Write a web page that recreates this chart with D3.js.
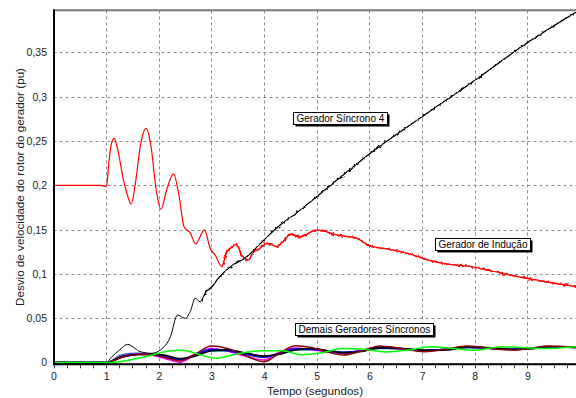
<!DOCTYPE html>
<html>
<head>
<meta charset="utf-8">
<script src="https://cdn.jsdelivr.net/npm/d3@7"></script>
<style>
  html, body { margin: 0; padding: 0; background: #fff; }
  svg { display: block; font-family: "Liberation Sans", Arial, sans-serif; }
</style>
</head>
<body>
<svg id="chart" width="576" height="398"></svg>
<script>
// ---- Rotor speed deviation (pu) versus time (s) ----

// Induction generator
const inductionT = [0, 0.9, 0.98, 1.01, 1.05, 1.1, 1.152, 1.22, 1.33, 1.4,
  1.475, 1.55, 1.65, 1.76, 1.85, 1.95, 2.04, 2.15, 2.279, 2.38,
  2.481, 2.6, 2.697, 2.868, 2.975, 3.07, 3.197, 3.29, 3.38, 3.47,
  3.577, 3.70, 3.797, 3.9, 4.05, 4.24, 4.367, 4.494, 4.684, 5.0,
  5.38, 5.76, 6.01, 6.39, 6.83, 7.02, 7.47, 7.97, 8.23, 8.99, 9.92];
const inductionV = [0.2, 0.2, 0.199, 0.2, 0.225, 0.247, 0.253, 0.24, 0.206, 0.19,
  0.1787, 0.2, 0.245, 0.2644, 0.245, 0.195, 0.173, 0.195, 0.2129, 0.19,
  0.153, 0.146, 0.1339, 0.1497, 0.129, 0.1214, 0.1083, 0.125, 0.13, 0.1335,
  0.1214, 0.1158, 0.125, 0.128, 0.1346, 0.131, 0.1365, 0.145, 0.142, 0.1497,
  0.144, 0.1403, 0.1316, 0.1278, 0.1214, 0.1175, 0.1113, 0.108, 0.1045, 0.0951, 0.0857];

// Synchronous generator 4
const sync4T = [0, 1.0, 1.1, 1.25, 1.41, 1.55, 1.646, 1.87, 2.03, 2.22,
  2.355, 2.5, 2.6, 2.69, 2.785, 2.9, 3.0, 3.13, 3.355, 3.67,
  3.99, 4.304, 4.48, 5.0, 6.0, 7.0, 8.0, 9.0, 9.94];
const sync4V = [0, 0, 0.006, 0.014, 0.0206, 0.016, 0.0123, 0.0105, 0.0142, 0.029,
  0.0537, 0.05, 0.058, 0.0726, 0.0687, 0.08, 0.085, 0.0951, 0.108, 0.1195,
  0.138, 0.1553, 0.1628, 0.1873, 0.2355, 0.2775, 0.3185, 0.361, 0.396];

// Remaining synchronous generators (shared time base)
const othersT = [0, 1, 1.3, 1.6, 1.85, 2.1, 2.4, 2.7, 3.0, 3.3,
  3.6, 4.0, 4.3, 4.6, 4.9, 5.2, 5.5, 5.85, 6.2, 6.6,
  7.05, 7.45, 7.85, 8.3, 8.75, 9.05, 9.4, 9.92];
const genYellowV = [0, 0, 0.0068, 0.0092, 0.0088, 0.0072, 0.0035, 0.0088, 0.0148, 0.0138,
  0.0098, 0.0055, 0.0108, 0.0152, 0.0148, 0.0128, 0.0108, 0.0133, 0.0168, 0.0152,
  0.0132, 0.0148, 0.0172, 0.0158, 0.0148, 0.0158, 0.0178, 0.0168];
const genTealV = [0, 0, 0.009, 0.0105, 0.009, 0.0075, 0.004, 0.0085, 0.013, 0.013,
  0.0105, 0.0065, 0.0105, 0.014, 0.0145, 0.0135, 0.012, 0.013, 0.016, 0.0155,
  0.014, 0.0148, 0.017, 0.0162, 0.0152, 0.016, 0.0176, 0.0171];
const genNavyV = [0, 0, 0.006, 0.009, 0.0095, 0.008, 0.004, 0.008, 0.014, 0.014,
  0.011, 0.007, 0.01, 0.015, 0.0155, 0.0135, 0.0115, 0.013, 0.0165, 0.016,
  0.014, 0.0145, 0.017, 0.0165, 0.0152, 0.0158, 0.0175, 0.0172];
const genMagentaV = [0, 0, 0.0075, 0.01, 0.0085, 0.005, 0.0005, 0.009, 0.016, 0.013,
  0.008, 0.003, 0.012, 0.0165, 0.0145, 0.012, 0.01, 0.014, 0.0175, 0.015,
  0.013, 0.0155, 0.018, 0.0158, 0.0145, 0.0162, 0.0182, 0.0168];
const genBlueV = [0, 0, 0.007, 0.0095, 0.009, 0.007, 0.003, 0.009, 0.015, 0.0135,
  0.01, 0.006, 0.011, 0.0155, 0.015, 0.013, 0.011, 0.0135, 0.017, 0.0155,
  0.0135, 0.015, 0.0175, 0.016, 0.015, 0.016, 0.018, 0.017];
const genBlackV = [0, 0, 0.0065, 0.009, 0.0095, 0.0085, 0.0045, 0.0075, 0.0135, 0.0145,
  0.0115, 0.0075, 0.0095, 0.0145, 0.016, 0.0135, 0.011, 0.0125, 0.0168, 0.0162,
  0.0138, 0.0142, 0.0178, 0.0168, 0.0148, 0.0155, 0.0178, 0.0175];
const genMaroonV = [0, 0, 0.006, 0.0095, 0.009, 0.006, 0.002, 0.01, 0.0187, 0.016,
  0.009, 0.001, 0.011, 0.019, 0.017, 0.012, 0.0086, 0.013, 0.0187, 0.016,
  0.0123, 0.015, 0.0187, 0.016, 0.0142, 0.016, 0.0187, 0.0172];

const genGreenT = [0, 1, 1.4, 1.8, 2.2, 2.45, 2.8, 3.1, 3.5, 3.95,
  4.35, 4.7, 5.1, 5.5, 5.9, 6.3, 6.75, 7.15, 7.6, 8.0, 8.5, 8.9, 9.3, 9.92];
const genGreenV = [0, 0, 0.0025, 0.0075, 0.013, 0.014, 0.0086, 0.005, 0.01, 0.0135,
  0.0134, 0.009, 0.011, 0.016, 0.015, 0.012, 0.0142, 0.018, 0.016, 0.014, 0.018, 0.017, 0.0158, 0.018];

// Axis ticks and labels
const xTickValues = [0, 1, 2, 3, 4, 5, 6, 7, 8, 9];
const xTickLabels = ["0", "1", "2", "3", "4", "5", "6", "7", "8", "9"];
const yTickValues = [0, 0.05, 0.1, 0.15, 0.2, 0.25, 0.3, 0.35];
const yTickLabels = ["0", "0,05", "0,1", "0,15", "0,2", "0,25", "0,3", "0,35"];

const xTitle = "Tempo (segundos)";
const yTitle = "Desvio de velocidade do rotor do gerador (pu)";

const tagTexts = ["Gerador Síncrono 4", "Gerador de Indução", "Demais Geradores Síncronos"];
const tagAnchors = [[4.55, 0.283], [7.24, 0.1406], [4.59, 0.0446]]; // [t, pu] of box top-left

// ---- drawing ----
const W = 576, H = 398;
const svg = d3.select("#chart");

const x = d3.scaleLinear().domain([0, 10]).range([53.5, 580]);
const y = d3.scaleLinear().domain([0, 0.3975]).range([362.6, 10.4]);

const defs = svg.append("defs");
// fine high-frequency ripple texture for the post-disturbance traces
function rippleFilter(id, freq, scale, seed) {
  const f = defs.append("filter").attr("id", id)
    .attr("filterUnits", "userSpaceOnUse").attr("x", 0).attr("y", 0).attr("width", W).attr("height", H);
  f.append("feTurbulence").attr("type", "fractalNoise").attr("baseFrequency", freq)
    .attr("numOctaves", 1).attr("seed", seed).attr("result", "n");
  f.append("feDisplacementMap").attr("in", "SourceGraphic").attr("in2", "n")
    .attr("scale", scale).attr("xChannelSelector", "R").attr("yChannelSelector", "G");
}
rippleFilter("rippleRed", 0.35, 4, 7);
rippleFilter("rippleBlk", 0.3, 3.2, 2);

function clipFrom(id, t0, t1) {
  defs.append("clipPath").attr("id", id).append("rect")
    .attr("x", x(t0)).attr("y", 0).attr("width", x(t1) - x(t0)).attr("height", H);
}
clipFrom("redEarly", -1, 3.2);
clipFrom("redLate", 3.2, 11);
clipFrom("blkEarly", -1, 2.8);
clipFrom("blkLate", 2.8, 11);
defs.append("clipPath").attr("id", "plot").append("rect")
  .attr("x", x(0)).attr("y", y.range()[1]).attr("width", W - x(0)).attr("height", y(0) - y.range()[1] + 2);

// grid
const grid = svg.append("g").attr("stroke", "#8a8a8a").attr("stroke-width", 1).attr("stroke-dasharray", "3,3");
grid.selectAll("line.v").data(xTickValues.slice(1)).join("line")
  .attr("x1", d => Math.round(x(d)) + 0.5).attr("x2", d => Math.round(x(d)) + 0.5)
  .attr("y1", y.range()[1]).attr("y2", y(0));
grid.selectAll("line.h").data(yTickValues).join("line")
  .attr("x1", x(0)).attr("x2", W)
  .attr("y1", d => Math.round(y(d)) + 0.5).attr("y2", d => Math.round(y(d)) + 0.5);

// series
const line = d3.line().x(d => x(d[0])).y(d => y(d[1])).curve(d3.curveMonotoneX);
const plot = svg.append("g").attr("clip-path", "url(#plot)").attr("fill", "none");

function drawSplit(T, V, color, width, lateWidth, early, late, filt) {
  const d = line(d3.zip(T, V));
  plot.append("g").attr("clip-path", `url(#${early})`).append("path")
    .attr("d", d).attr("stroke", color).attr("stroke-width", width);
  const g = plot.append("g").attr("clip-path", `url(#${late})`);
  g.append("path").attr("d", d).attr("stroke", color).attr("stroke-width", width).attr("stroke-opacity", 0.8);
  g.append("path").attr("d", d).attr("stroke", color).attr("stroke-width", lateWidth)
    .attr("filter", `url(#${filt})`);
}
drawSplit(inductionT, inductionV, "#ff0000", 1.2, 1.5, "redEarly", "redLate", "rippleRed");
drawSplit(sync4T, sync4V, "#000000", 1, 1.2, "blkEarly", "blkLate", "rippleBlk");

const others = [
  [othersT, genYellowV, "#e6e600"],
  [othersT, genTealV, "#008080"],
  [othersT, genNavyV, "#000080"],
  [othersT, genMagentaV, "#ff00ff"],
  [othersT, genBlueV, "#0000ff"],
  [othersT, genBlackV, "#000000"],
  [othersT, genMaroonV, "#800000"],
  [genGreenT, genGreenV, "#00ff00"]
];
others.forEach(([T, V, c]) => {
  plot.append("path").attr("d", line(d3.zip(T, V))).attr("stroke", c).attr("stroke-width", 1.5);
});

// frame
svg.append("line").attr("x1", x(0)).attr("x2", W).attr("y1", 10.3).attr("y2", 10.3)
  .attr("stroke", "#7a7a7a").attr("stroke-width", 2);
svg.append("line").attr("x1", 54).attr("x2", 54).attr("y1", 9.3).attr("y2", 365.3)
  .attr("stroke", "#000").attr("stroke-width", 2);
svg.append("line").attr("x1", 53).attr("x2", W).attr("y1", 364.3).attr("y2", 364.3)
  .attr("stroke", "#000").attr("stroke-width", 2);

// minor ticks on the time axis
svg.append("g").attr("stroke", "#333").attr("stroke-width", 1)
  .selectAll("line").data(d3.range(0, 40).map(i => i * 0.25)).join("line")
  .attr("x1", d => Math.round(x(d)) + 0.5).attr("x2", d => Math.round(x(d)) + 0.5)
  .attr("y1", 365.3).attr("y2", 368.3);

// axes (labels only)
const xAxis = svg.append("g").attr("transform", "translate(0,364.3)")
  .call(d3.axisBottom(x).tickValues(xTickValues).tickSize(0).tickPadding(8.6)
    .tickFormat((d, i) => xTickLabels[i]));
const yAxis = svg.append("g").attr("transform", `translate(${x(0)},0)`)
  .call(d3.axisLeft(y).tickValues(yTickValues).tickSize(0).tickPadding(6.5)
    .tickFormat((d, i) => yTickLabels[i]));
[xAxis, yAxis].forEach(a => {
  a.select(".domain").remove();
  a.selectAll("text").attr("font-family", "Liberation Sans, Arial, sans-serif")
    .attr("font-size", 10.5).attr("fill", "#222");
});

// titles
svg.append("text").attr("x", 315).attr("y", 395).attr("text-anchor", "middle")
  .attr("font-size", 11.6).attr("fill", "#222").text(xTitle);
svg.append("text").attr("transform", "translate(23.5,187) rotate(-90)").attr("text-anchor", "middle")
  .attr("font-size", 11.6).attr("fill", "#222")
  .attr("textLength", 238).attr("lengthAdjust", "spacing").text(yTitle);

// series tags
tagTexts.forEach((txt, i) => {
  const [t, v] = tagAnchors[i];
  const g = svg.append("g").attr("transform", `translate(${Math.round(x(t))},${Math.round(y(v))})`);
  const shadow = g.append("rect").attr("fill", "#000");
  const box = g.append("rect").attr("fill", "#fff").attr("stroke", "#000").attr("stroke-width", 1);
  const tx = g.append("text").attr("x", 3.5).attr("y", 10.2).attr("font-size", 10).attr("fill", "#000").text(txt);
  const w = Math.ceil(tx.node().getComputedTextLength()) + 6;
  const h = 12;
  shadow.attr("x", 2.5).attr("y", 2.5).attr("width", w).attr("height", h);
  box.attr("x", 0.5).attr("y", 0.5).attr("width", w).attr("height", h);
});
</script>
</body>
</html>
